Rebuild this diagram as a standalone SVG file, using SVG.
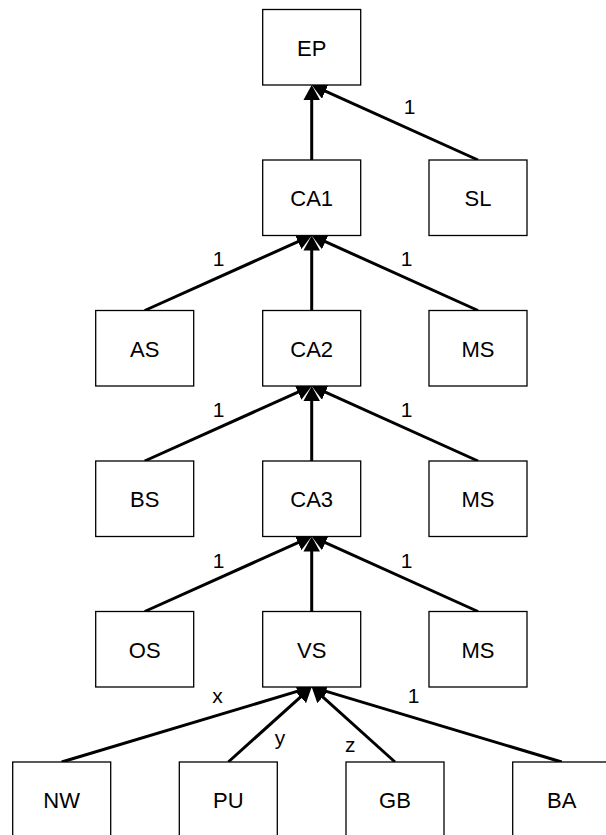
<svg xmlns="http://www.w3.org/2000/svg" width="606" height="835" viewBox="0 0 606 835">
<style>
.box{fill:#fff;stroke:#000;stroke-width:1.3}
.nt{font-family:"Liberation Sans",Arial,sans-serif;font-size:22px;text-anchor:middle;fill:#000}
.lt{font-family:"Liberation Sans",Arial,sans-serif;font-size:21px;text-anchor:middle;fill:#000}
.e{stroke:#000;stroke-width:3;fill:none;marker-end:url(#ah)}
</style>
<defs>
<marker id="ah" markerUnits="userSpaceOnUse" markerWidth="16" markerHeight="17" refX="11" refY="8.25" orient="auto" viewBox="0 0 16 17">
<path d="M0,0 L15,8.25 L0,16.5 Z" fill="#000"/>
</marker>
</defs>
<rect width="606" height="835" fill="#fff"/>
<g id="connectors">
<line class="e" x1="311.7" y1="160" x2="311.7" y2="89"/>
<line class="e" x1="478" y1="160" x2="315.35" y2="86.64"/>
<line class="e" x1="144.7" y1="310.5" x2="308.05" y2="237.14"/>
<line class="e" x1="311.7" y1="310.5" x2="311.7" y2="239.5"/>
<line class="e" x1="478" y1="310.5" x2="315.35" y2="237.14"/>
<line class="e" x1="144.7" y1="461" x2="308.05" y2="387.64"/>
<line class="e" x1="311.7" y1="461" x2="311.7" y2="390"/>
<line class="e" x1="478" y1="461" x2="315.35" y2="387.64"/>
<line class="e" x1="144.7" y1="611.5" x2="308.05" y2="538.14"/>
<line class="e" x1="311.7" y1="611.5" x2="311.7" y2="540.5"/>
<line class="e" x1="478" y1="611.5" x2="315.35" y2="538.14"/>
<line class="e" x1="61.7" y1="762" x2="307.87" y2="688.15"/>
<line class="e" x1="228.3" y1="762" x2="308.73" y2="689.67"/>
<line class="e" x1="395" y1="762" x2="314.67" y2="689.67"/>
<line class="e" x1="561.7" y1="762" x2="315.53" y2="688.15"/>
<text class="lt" x="409.6" y="114.3">1</text>
<text class="lt" x="218.6" y="266">1</text>
<text class="lt" x="406.6" y="266">1</text>
<text class="lt" x="218.6" y="417">1</text>
<text class="lt" x="406.6" y="417">1</text>
<text class="lt" x="218.6" y="567.5">1</text>
<text class="lt" x="406.6" y="567.5">1</text>
<text class="lt" x="217.5" y="702.7">x</text>
<text class="lt" x="280" y="744.5">y</text>
<text class="lt" x="350.3" y="751.7">z</text>
<text class="lt" x="413.5" y="702.7">1</text>
</g>
<g id="EP"><rect class="box" x="262.7" y="9.5" width="98" height="75.5"/><text class="nt" x="311.7" y="55.8">EP</text></g>
<g id="CA1"><rect class="box" x="262.7" y="160" width="98" height="75.5"/><text class="nt" x="311.7" y="206.3">CA1</text></g>
<g id="SL"><rect class="box" x="429" y="160" width="98" height="75.5"/><text class="nt" x="478" y="206.3">SL</text></g>
<g id="AS"><rect class="box" x="95.7" y="310.5" width="98" height="75.5"/><text class="nt" x="144.7" y="356.8">AS</text></g>
<g id="CA2"><rect class="box" x="262.7" y="310.5" width="98" height="75.5"/><text class="nt" x="311.7" y="356.8">CA2</text></g>
<g id="MS1"><rect class="box" x="429" y="310.5" width="98" height="75.5"/><text class="nt" x="478" y="356.8">MS</text></g>
<g id="BS"><rect class="box" x="95.7" y="461" width="98" height="75.5"/><text class="nt" x="144.7" y="507.3">BS</text></g>
<g id="CA3"><rect class="box" x="262.7" y="461" width="98" height="75.5"/><text class="nt" x="311.7" y="507.3">CA3</text></g>
<g id="MS2"><rect class="box" x="429" y="461" width="98" height="75.5"/><text class="nt" x="478" y="507.3">MS</text></g>
<g id="OS"><rect class="box" x="95.7" y="611.5" width="98" height="75.5"/><text class="nt" x="144.7" y="657.8">OS</text></g>
<g id="VS"><rect class="box" x="262.7" y="611.5" width="98" height="75.5"/><text class="nt" x="311.7" y="657.8">VS</text></g>
<g id="MS3"><rect class="box" x="429" y="611.5" width="98" height="75.5"/><text class="nt" x="478" y="657.8">MS</text></g>
<g id="NW"><rect class="box" x="12.7" y="762" width="98" height="75.5"/><text class="nt" x="61.7" y="808.3">NW</text></g>
<g id="PU"><rect class="box" x="179.3" y="762" width="98" height="75.5"/><text class="nt" x="228.3" y="808.3">PU</text></g>
<g id="GB"><rect class="box" x="346" y="762" width="98" height="75.5"/><text class="nt" x="395" y="808.3">GB</text></g>
<g id="BA"><rect class="box" x="512.7" y="762" width="98" height="75.5"/><text class="nt" x="561.7" y="808.3">BA</text></g>
</svg>
